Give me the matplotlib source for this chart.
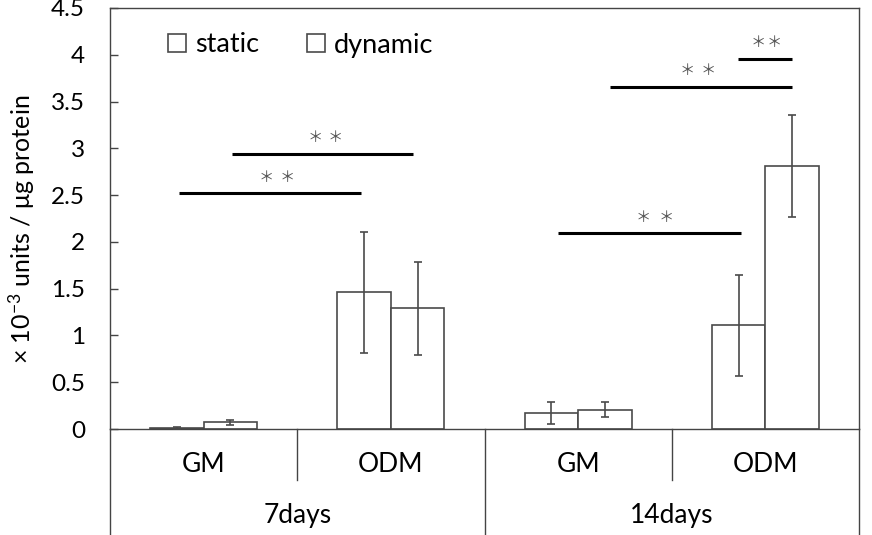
import matplotlib
matplotlib.use("Agg")
import matplotlib.pyplot as plt
import numpy as np
from matplotlib.lines import Line2D
from matplotlib.transforms import offset_copy

# ---- data ----
outer_labels = ["7days", "14days"]
inner_labels = ["GM", "ODM", "GM", "ODM"]
series_names = ["static", "dynamic"]
static_mean = [0.01, 1.46, 0.17, 1.11]
static_err = [0.01, 0.645, 0.115, 0.54]
dynamic_mean = [0.07, 1.29, 0.205, 2.815]
dynamic_err = [0.025, 0.50, 0.08, 0.545]
yticks = [0, 0.5, 1, 1.5, 2, 2.5, 3, 3.5, 4, 4.5]
ytick_labels = ["0", "0.5", "1", "1.5", "2", "2.5", "3", "3.5", "4", "4.5"]
sig_label = "＊"

plt.rcParams["font.family"] = ["Lato", "DejaVu Sans"]
plt.rcParams["mathtext.fontset"] = "custom"
plt.rcParams["mathtext.rm"] = "Lato"
plt.rcParams["mathtext.it"] = "Lato"

fig = plt.figure(figsize=(8.72, 5.35), dpi=100)
ax = fig.add_axes([110 / 872, 1 - 429 / 535, (859 - 110) / 872, (429 - 8) / 535])

x = np.arange(len(inner_labels))
w = 0.286
edge = "#4a4a4a"
ax.bar(x - w / 2, static_mean, w, color="white", edgecolor=edge, linewidth=1.2,
       label=series_names[0], zorder=2)
ax.bar(x + w / 2, dynamic_mean, w, color="white", edgecolor=edge, linewidth=1.2,
       label=series_names[1], zorder=2)
ax.errorbar(x - w / 2, static_mean, yerr=static_err, fmt="none", ecolor=edge,
            elinewidth=1.2, capsize=3, capthick=1.2, zorder=3)
ax.errorbar(x + w / 2, dynamic_mean, yerr=dynamic_err, fmt="none", ecolor=edge,
            elinewidth=1.2, capsize=3, capthick=1.2, zorder=3)

ax.set_xlim(-0.5, len(inner_labels) - 0.5)
ax.set_ylim(0, 4.5)
ax.set_yticks(yticks)
ax.set_yticklabels(ytick_labels, fontsize=17.5)
ax.tick_params(axis="y", direction="in", length=6, width=1, color="#444444", pad=18)
ax.set_xticks([])
for s in ax.spines.values():
    s.set_color("#444444")
    s.set_linewidth(1)

fig.text(22 / 872, 1 - 229 / 535, "× 10$^{-3}$ units / μg protein", rotation=90,
         ha="center", va="center", fontsize=18)

# significance brackets: (x start, x end, y level, star centre shift, star spacing in px)
brackets = [(-0.13, 0.84, 2.52, 7, 21), (0.15, 1.12, 2.94, 3, 20), (1.89, 2.87, 2.09, 5, 23),
            (2.17, 3.14, 3.66, -3, 21), (2.855, 3.14, 3.96, 1, 16)]
for x0, x1, yv, shift, sp in brackets:
    ax.plot([x0, x1], [yv, yv], color="black", lw=2.2, solid_capstyle="butt", zorder=4)
    for k in (-1, 1):
        tr = offset_copy(ax.transData, fig=fig, x=(shift + k * sp / 2) * 0.72,
                         y=16 * 0.72, units="points")
        ax.text((x0 + x1) / 2, yv, sig_label, transform=tr, ha="center", va="center",
                fontsize=11, color="#555555", family=["Noto Sans CJK JP", "DejaVu Sans"])

# hierarchical x-axis
trans = ax.transAxes
lc = "#444444"
depth_full = -(535 - 429) / 421
depth_half = -(480 - 429) / 421
for xf in [0.0, 0.5, 1.0]:
    ax.add_line(Line2D([xf, xf], [0, depth_full], transform=trans, color=lc, lw=1, clip_on=False))
for xf in [0.25, 0.75]:
    ax.add_line(Line2D([xf, xf], [0, depth_half], transform=trans, color=lc, lw=1, clip_on=False))
for i, lab in enumerate(inner_labels):
    ax.text((i + 0.5) / 4, -(464 - 429) / 421, lab, transform=trans, ha="center",
            va="center", fontsize=19)
for i, lab in enumerate(outer_labels):
    ax.text((i + 0.5) / 2, -(516 - 429) / 421, lab, transform=trans, ha="center",
            va="center", fontsize=19)

leg = ax.legend(loc="center left", bbox_to_anchor=((168 - 110) / 749, 1 - (45 - 8) / 421),
                ncol=2, frameon=False, fontsize=19.5, handlelength=0.67, handleheight=0.67,
                handletextpad=0.33, columnspacing=1.75, borderaxespad=0, borderpad=0)

fig.savefig("out.png", dpi=100)
